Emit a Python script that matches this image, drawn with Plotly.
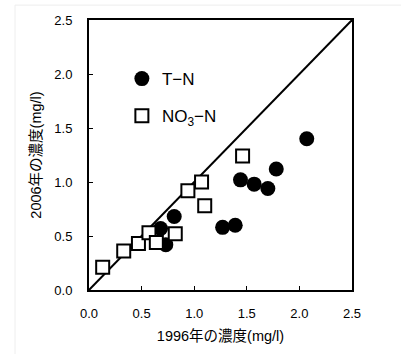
import plotly.graph_objects as go

# T-N: (1996, 2006)
tn_x = [2.07, 1.78, 1.44, 1.57, 1.70, 0.81, 0.68, 1.27, 1.39, 0.73]
tn_y = [1.40, 1.12, 1.02, 0.98, 0.94, 0.68, 0.57, 0.58, 0.60, 0.42]
# NO3-N
no3_x = [0.13, 0.33, 0.47, 0.57, 0.64, 0.82, 0.94, 1.07, 1.10, 1.46]
no3_y = [0.21, 0.36, 0.43, 0.53, 0.44, 0.52, 0.92, 1.00, 0.78, 1.24]
# 1:1 line
line_x = [0.0, 2.5]
line_y = [0.0, 2.5]
ticks = [0.0, 0.5, 1.0, 1.5, 2.0, 2.5]
tick_text = ["0.0", "0.5", "1.0", "1.5", "2.0", "2.5"]

FONT = "Liberation Sans, Arial, Noto Sans CJK JP"

fig = go.Figure()
fig.add_trace(go.Scatter(x=line_x, y=line_y, mode="lines",
                         line=dict(color="black", width=2), showlegend=False,
                         hoverinfo="skip"))
fig.add_trace(go.Scatter(x=tn_x, y=tn_y, mode="markers", name="T−N",
                         legendgroup="a",
                         marker=dict(symbol="circle", size=15, color="black")))
fig.add_trace(go.Scatter(x=no3_x, y=no3_y, mode="markers",
                         name="NO<sub>3</sub>−N", legendgroup="b",
                         marker=dict(symbol="square", size=13, color="white",
                                     line=dict(color="black", width=2))))

axis_common = dict(range=[0, 2.5], tickvals=ticks, ticktext=tick_text,
                   ticks="inside", ticklen=4, tickwidth=1, tickcolor="black",
                   showline=True, linewidth=2, linecolor="black", mirror=True,
                   showgrid=False, zeroline=False,
                   tickfont=dict(family=FONT, size=13, color="black"))

fig.update_xaxes(**axis_common, ticklabelstandoff=10,
                 title=dict(text="1996年の濃度(mg/l)", standoff=11,
                            font=dict(family=FONT, size=14.5, color="black")))
fig.update_yaxes(**axis_common, ticklabelstandoff=12,
                 title=dict(text="2006年の濃度(mg/l)", standoff=9,
                            font=dict(family=FONT, size=14.5, color="black")))

fig.update_layout(
    width=401, height=354,
    margin=dict(l=89, r=49, t=20, b=62),
    paper_bgcolor="white", plot_bgcolor="white",
    legend=dict(x=0.125, y=0.848, xanchor="left", yanchor="top",
                bgcolor="rgba(0,0,0,0)", traceorder="grouped",
                tracegroupgap=12,
                font=dict(family=FONT, size=17, color="black")),
    shapes=[dict(type="rect", xref="paper", yref="paper",
                 x0=-74 / 263, x1=1.3, y0=-0.3, y1=1 + 15 / 272,
                 line=dict(color="#eeeeee", width=1), layer="below")],
)

fig.write_html("out.html")
